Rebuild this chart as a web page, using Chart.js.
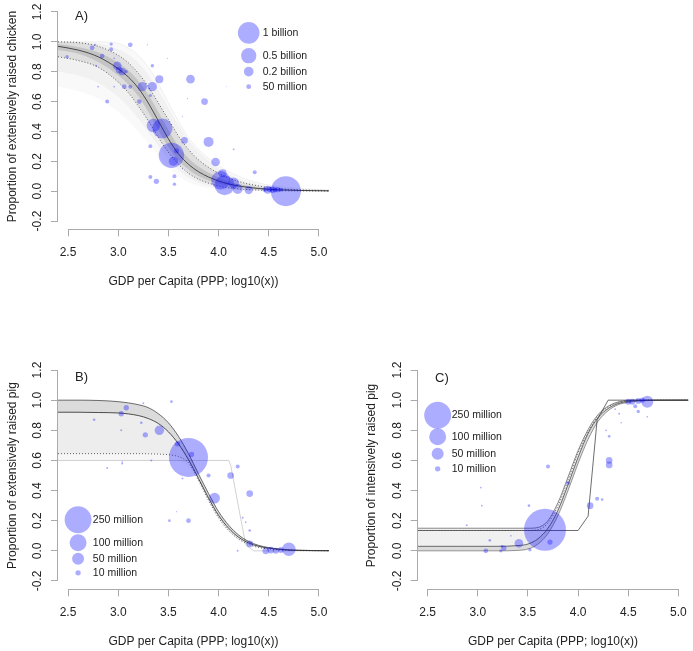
<!DOCTYPE html>
<html>
<head>
<meta charset="utf-8">
<script src="https://cdn.jsdelivr.net/npm/chart.js@4.4.1/dist/chart.umd.min.js"></script>
<style>
  body { margin: 0; background: #fff; }
  #wrap { position: relative; width: 693px; height: 651px; }
  #wrap canvas { position: absolute; }
</style>
</head>
<body>
<div id="wrap">
  <canvas id="chartA" width="346" height="291" style="left:0px;top:0px;width:346px;height:291px"></canvas>
  <canvas id="chartB" width="346" height="331" style="left:0px;top:320px;width:346px;height:331px"></canvas>
  <canvas id="chartC" width="347" height="331" style="left:346px;top:320px;width:347px;height:331px"></canvas>
</div>
<script>
// tick labels shared by all three panels
const xTicks = [2.5, 3.0, 3.5, 4.0, 4.5, 5.0];
const yTicks = [-0.2, 0.0, 0.2, 0.4, 0.6, 0.8, 1.0, 1.2];

// A) chicken: GDP (log10), proportion extensive, population (millions)
const chickenGdp = [2.49, 2.74, 2.77, 2.84, 2.78, 2.93, 2.93, 2.96, 2.99, 3.01, 3.04, 3.08, 3.12, 2.96, 2.80, 2.89, 3.06, 3.12, 3.21, 3.24, 3.34, 3.34, 3.41, 3.32, 3.35, 3.44, 3.32, 3.53, 3.55, 3.58, 3.66, 3.56, 3.56, 3.32, 3.38, 3.72, 3.86, 3.90, 3.97, 4.02, 4.06, 4.04, 4.15, 4.19, 4.15, 4.30, 4.36, 4.49, 4.54, 4.59, 4.67, 3.29, 3.49, 3.69, 3.64, 4.08, 3.64, 4.46, 4.51, 4.56, 4.62];
const chickenProp = [0.90, 0.96, 0.98, 0.905, 0.84, 0.985, 0.95, 0.89, 0.84, 0.81, 0.80, 0.80, 0.98, 0.70, 0.70, 0.60, 0.70, 0.70, 0.60, 0.70, 0.70, 0.84, 0.75, 0.64, 0.44, 0.42, 0.30, 0.24, 0.20, 0.27, 0.34, 0.10, 0.047, 0.095, 0.066, 0.75, 0.60, 0.33, 0.195, 0.073, 0.04, 0.12, 0.055, 0.015, 0.28, 0.007, 0.127, 0.01, 0.01, 0.01, 0.0, 0.98, 0.89, 0.62, 0.50, 0.70, 0.15, 0.01, 0.012, 0.008, 0.01];
const chickenPop = [24, 47, 10, 47, 8, 24, 34, 6, 160, 95, 115, 24, 47, 6, 6, 34, 47, 34, 47, 186, 186, 24, 137, 20, 380, 855, 34, 1372, 186, 61, 95, 34, 24, 34, 61, 160, 95, 214, 160, 745, 855, 137, 243, 214, 8, 137, 34, 137, 95, 61, 1924, 3, 3, 3, 3, 2, 3, 47, 61, 47, 34];

// A) fitted curves
const chickenCurveX = [2.4, 2.6, 2.8, 3.0, 3.1, 3.2, 3.3, 3.4, 3.5, 3.6, 3.7, 3.8, 4.0, 4.2, 4.4, 4.6, 4.8, 5.1];
const chickenMedian = [0.97, 0.945, 0.90, 0.82, 0.765, 0.69, 0.59, 0.47, 0.35, 0.25, 0.18, 0.13, 0.068, 0.035, 0.018, 0.009, 0.005, 0.002];
const chickenUpper = [1.0, 0.995, 0.97, 0.91, 0.86, 0.79, 0.70, 0.59, 0.48, 0.37, 0.28, 0.21, 0.12, 0.065, 0.035, 0.018, 0.01, 0.004];
const chickenLower = [0.90, 0.875, 0.83, 0.73, 0.66, 0.57, 0.47, 0.36, 0.26, 0.18, 0.12, 0.08, 0.035, 0.015, 0.007, 0.003, 0.001, 0.0];
const chickenInnerHi = [0.985, 0.965, 0.93, 0.86, 0.81, 0.74, 0.645, 0.53, 0.41, 0.30, 0.22, 0.165, 0.09, 0.048, 0.025, 0.013, 0.007, 0.003];
const chickenInnerLo = [0.945, 0.92, 0.865, 0.775, 0.715, 0.635, 0.53, 0.41, 0.295, 0.205, 0.145, 0.10, 0.05, 0.024, 0.012, 0.006, 0.003, 0.001];
const chickenMidHi = [1.0, 1.0, 0.99, 0.95, 0.915, 0.86, 0.78, 0.675, 0.56, 0.445, 0.345, 0.265, 0.155, 0.085, 0.047, 0.026, 0.015, 0.007];
const chickenMidLo = [0.80, 0.775, 0.725, 0.63, 0.565, 0.485, 0.395, 0.30, 0.21, 0.14, 0.09, 0.057, 0.022, 0.009, 0.003, 0.001, 0.0, 0.0];
const chickenOuterHi = [1.0, 1.0, 1.0, 0.99, 0.96, 0.91, 0.83, 0.72, 0.59, 0.47, 0.36, 0.28, 0.17, 0.10, 0.055, 0.032, 0.018, 0.009];
const chickenOuterLo = [0.70, 0.67, 0.62, 0.53, 0.47, 0.40, 0.32, 0.24, 0.16, 0.10, 0.06, 0.035, 0.012, 0.004, 0.0, 0.0, 0.0, 0.0];
const chickenLegendPop = [1000, 500, 200, 50];
const chickenLegendText = ['1 billion', '0.5 billion', '0.2 billion', '50 million'];

// B) pigs extensive
const pigGdpB = [3.08, 3.03, 3.25, 3.53, 2.76, 3.23, 3.03, 3.41, 3.27, 3.59, 3.70, 3.73, 3.33, 3.04, 2.89, 3.64, 3.90, 4.12, 4.19, 3.96, 4.31, 3.51, 3.70, 4.24, 4.31, 4.31, 4.19, 4.47, 4.52, 4.57, 4.62, 4.70, 3.58, 4.27, 3.04];
const pigExtProp = [0.95, 0.91, 0.98, 0.99, 0.87, 0.85, 0.80, 0.80, 0.77, 0.71, 0.62, 0.64, 0.60, 0.58, 0.55, 0.48, 0.50, 0.50, 0.56, 0.35, 0.38, 0.20, 0.20, 0.22, 0.135, 0.046, 0.0, 0.0, 0.005, 0.0, 0.005, 0.011, 0.26, 0.19, 0.59];
const pigPopB = [10, 10, 1.4, 2.5, 2.5, 2.5, 1.4, 31, 10, 10, 528, 10, 1.4, 1.4, 1.4, 1.4, 5.7, 15.7, 5.7, 40, 15.7, 2.5, 7.7, 1.4, 2.5, 15.7, 1.4, 15.7, 15.7, 12.7, 12.7, 63, 0.5, 1.0, 0.8];

const pigExtCurveX = [2.4, 2.6, 2.8, 3.0, 3.2, 3.3, 3.4, 3.5, 3.6, 3.7, 3.8, 3.9, 4.0, 4.1, 4.2, 4.3, 4.4, 4.6, 4.8, 5.1];
const pigExtTop = [1.0, 1.0, 0.998, 0.99, 0.97, 0.95, 0.91, 0.85, 0.76, 0.645, 0.51, 0.38, 0.26, 0.17, 0.105, 0.062, 0.036, 0.012, 0.004, 0.001];
const pigExtMedian = [0.92, 0.92, 0.918, 0.915, 0.898, 0.878, 0.845, 0.79, 0.71, 0.605, 0.48, 0.35, 0.235, 0.15, 0.09, 0.052, 0.03, 0.01, 0.003, 0.001];
const pigExtLowerDot = [0.645, 0.645, 0.645, 0.645, 0.645, 0.644, 0.642, 0.638, 0.625, 0.585, 0.47, 0.335, 0.22, 0.135, 0.078, 0.042, 0.022, 0.007, 0.002, 0.0];
const pigExtBottom = [0.60, 0.60, 0.60, 0.60, 0.60, 0.60, 0.60, 0.60, 0.595, 0.56, 0.45, 0.32, 0.205, 0.125, 0.07, 0.037, 0.019, 0.006, 0.002, 0.0];
const pigExtStepX = [2.4, 4.1, 4.12, 4.27, 4.35, 5.1];
const pigExtStepY = [0.60, 0.60, 0.57, 0.04, 0.0, 0.0];

// C) pigs intensive
const pigGdpC = [3.67, 3.72, 3.41, 3.26, 3.23, 3.08, 3.12, 3.52, 3.33, 3.51, 3.03, 3.04, 2.89, 3.70, 3.90, 4.12, 4.19, 4.24, 4.31, 4.31, 4.31, 4.28, 4.41, 4.69, 4.50, 4.54, 4.60, 4.64, 4.57, 4.60, 4.37, 4.43, 4.69, 3.24];
const pigIntProp = [0.14, 0.058, 0.05, 0.018, 0.0, 0.0, 0.07, 0.007, 0.10, 0.30, 0.42, 0.30, 0.17, 0.56, 0.45, 0.30, 0.345, 0.34, 0.60, 0.57, 0.76, 0.80, 0.91, 0.99, 0.99, 0.99, 0.995, 1.0, 0.96, 0.925, 0.94, 0.85, 0.89, 0.03];
const pigPopC = [610, 9.8, 26, 9.8, 3.8, 7.5, 2.5, 3.8, 1.0, 2.5, 1.0, 1.0, 1.4, 5.5, 5.5, 15.4, 5.5, 2.5, 15.4, 15.4, 2.5, 1.0, 1.4, 50, 12.5, 12.5, 12.5, 9.8, 5.5, 3.8, 1.0, 0.8, 1.0, 2.5];

const pigIntCurveX = [2.4, 2.8, 3.2, 3.4, 3.5, 3.6, 3.7, 3.8, 3.9, 4.0, 4.1, 4.2, 4.3, 4.4, 4.5, 4.6, 4.8, 5.1];
const pigIntTop = [0.15, 0.15, 0.15, 0.15, 0.15, 0.155, 0.20, 0.32, 0.49, 0.665, 0.805, 0.905, 0.96, 0.988, 0.998, 1.0, 1.0, 1.0];
const pigIntDot = [0.135, 0.135, 0.135, 0.135, 0.135, 0.14, 0.185, 0.30, 0.47, 0.65, 0.79, 0.895, 0.955, 0.985, 0.996, 1.0, 1.0, 1.0];
const pigIntMedian = [0.03, 0.03, 0.03, 0.035, 0.045, 0.08, 0.15, 0.27, 0.44, 0.62, 0.78, 0.885, 0.945, 0.978, 0.992, 0.997, 1.0, 1.0];
const pigIntBottom = [0.0, 0.0, 0.0, 0.003, 0.012, 0.045, 0.115, 0.235, 0.40, 0.58, 0.74, 0.86, 0.93, 0.97, 0.985, 0.994, 0.999, 1.0];
const pigIntStepX = [2.4, 4.0, 4.1, 4.19, 4.3, 5.1];
const pigIntStepY = [0.135, 0.135, 0.23, 0.87, 1.0, 1.0];

const pigLegendPop = [250, 100, 50, 10];
const pigLegendText = ['250 million', '100 million', '50 million', '10 million'];

// look
const fontFamily = '"Liberation Sans", Arial, Helvetica, sans-serif';
const textColor = '#222';
const axisColor = '#aaa';
const bubbleColor = 'rgba(0,0,255,0.32)';
Chart.defaults.font.family = fontFamily;
Chart.defaults.font.size = 12;
Chart.defaults.color = textColor;

function pts(xs, ys) {
    return xs.map((x, i) => ({ x: x, y: ys[i] }));
}

// draws R-style axis lines, the panel letter and the bubble size legend
function makeDecor(p) {
    return {
        id: 'decor' + p.letter,
        afterDraw(chart) {
            const ctx = chart.ctx;
            const xs = chart.scales.x;
            const ys = chart.scales.y;
            const ca = chart.chartArea;
            ctx.save();
            ctx.strokeStyle = axisColor;
            ctx.lineWidth = 1;
            ctx.beginPath();
            const yb = Math.round(ca.bottom) + 0.5;
            ctx.moveTo(xs.getPixelForValue(xTicks[0]), yb);
            ctx.lineTo(xs.getPixelForValue(xTicks[xTicks.length - 1]), yb);
            const xl = Math.round(ca.left) - 0.5;
            ctx.moveTo(xl, ys.getPixelForValue(yTicks[0]));
            ctx.lineTo(xl, ys.getPixelForValue(yTicks[yTicks.length - 1]));
            ctx.stroke();

            // panel letter
            ctx.fillStyle = textColor;
            ctx.font = '13px ' + fontFamily;
            ctx.textAlign = 'left';
            ctx.textBaseline = 'middle';
            ctx.fillText(p.letter + ')', p.labelPos.x, p.labelPos.y);

            // size legend
            ctx.font = '10.5px ' + fontFamily;
            p.legendPop.forEach((pop, i) => {
                const cx = xs.getPixelForValue(p.legendPos.cx);
                const cy = ys.getPixelForValue(p.legendPos.cy[i]);
                ctx.fillStyle = bubbleColor;
                ctx.beginPath();
                ctx.arc(cx, cy, p.k * Math.sqrt(pop), 0, Math.PI * 2);
                ctx.fill();
                ctx.fillStyle = textColor;
                ctx.fillText(p.legendText[i], xs.getPixelForValue(p.legendPos.tx), cy);
            });
            ctx.restore();
        }
    };
}

function makePanel(id, p) {
    const datasets = [];
    datasets.push({
        type: 'bubble',
        data: p.gdp.map((g, i) => ({ x: g, y: p.prop[i], r: p.k * Math.sqrt(p.pop[i]) })),
        backgroundColor: bubbleColor,
        borderWidth: 0,
        order: 0
    });
    p.bands.forEach(b => {
        datasets.push({
            type: 'line', data: pts(b.x, b.hi), fill: '+1', backgroundColor: b.color,
            borderColor: 'rgba(0,0,0,0)', borderWidth: 1, pointRadius: 0,
            cubicInterpolationMode: 'monotone', order: 5
        });
        datasets.push({
            type: 'line', data: pts(b.x, b.lo), fill: false,
            borderColor: 'rgba(0,0,0,0)', borderWidth: 1, pointRadius: 0,
            cubicInterpolationMode: 'monotone', order: 5
        });
    });
    p.lines.forEach(l => {
        datasets.push({
            type: 'line', data: pts(l.x, l.y), fill: false,
            borderColor: l.color, borderWidth: l.width, borderDash: l.dash || [],
            pointRadius: 0, tension: 0,
            cubicInterpolationMode: l.straight ? 'default' : 'monotone', order: 2
        });
    });

    return new Chart(document.getElementById(id), {
        type: 'bubble',
        data: { datasets: datasets },
        options: {
            responsive: false,
            animation: false,
            events: [],
            layout: { autoPadding: false, padding: p.padding },
            plugins: { legend: { display: false }, tooltip: { enabled: false } },
            scales: {
                x: {
                    type: 'linear', min: 2.4, max: 5.1,
                    afterBuildTicks: s => { s.ticks = xTicks.map(v => ({ value: v })); },
                    afterFit: s => { s.height = 61.6; s.paddingLeft = 0; s.paddingRight = 0; },
                    grid: { drawOnChartArea: false, drawTicks: true, tickLength: 7, color: axisColor },
                    border: { display: false },
                    ticks: { autoSkip: false, maxRotation: 0, padding: 9.4, color: textColor, callback: v => v.toFixed(1) },
                    title: { display: true, text: 'GDP per Capita (PPP; log10(x))', color: textColor, padding: { top: 0, bottom: 2.3 } }
                },
                y: {
                    type: 'linear', min: -0.256, max: 1.256,
                    afterBuildTicks: s => { s.ticks = yTicks.map(v => ({ value: v })); },
                    afterFit: s => { s.width = 58; s.paddingTop = 0; s.paddingBottom = 0; },
                    grid: { drawOnChartArea: false, drawTicks: true, tickLength: 7, color: axisColor },
                    border: { display: false },
                    ticks: { autoSkip: false, minRotation: 90, maxRotation: 90, crossAlign: 'center', padding: 2.7, color: textColor, callback: v => v.toFixed(1) },
                    title: { display: true, text: p.yTitle, color: textColor, padding: { top: 5.3, bottom: 0 } }
                }
            }
        },
        plugins: [makeDecor(p)]
    });
}

makePanel('chartA', {
    letter: 'A',
    yTitle: 'Proportion of extensively raised chicken',
    gdp: chickenGdp, prop: chickenProp, pop: chickenPop, k: 0.342,
    padding: { left: 0, top: 3.6, right: 17, bottom: 0 },
    bands: [
        { x: chickenCurveX, hi: chickenOuterHi, lo: chickenOuterLo, color: 'rgba(0,0,0,0.025)' },
        { x: chickenCurveX, hi: chickenMidHi, lo: chickenMidLo, color: 'rgba(0,0,0,0.035)' },
        { x: chickenCurveX, hi: chickenUpper, lo: chickenLower, color: 'rgba(0,0,0,0.08)' },
        { x: chickenCurveX, hi: chickenInnerHi, lo: chickenInnerLo, color: 'rgba(0,0,0,0.12)' }
    ],
    lines: [
        { x: chickenCurveX, y: chickenMedian, color: 'rgba(50,50,50,0.85)', width: 1 },
        { x: chickenCurveX, y: chickenUpper, color: 'rgba(60,60,60,0.8)', width: 1, dash: [1, 2] },
        { x: chickenCurveX, y: chickenLower, color: 'rgba(60,60,60,0.8)', width: 1, dash: [1, 2] },
        { x: chickenCurveX, y: chickenOuterHi, color: 'rgba(0,0,0,0.06)', width: 1 }
    ],
    legendPop: chickenLegendPop, legendText: chickenLegendText,
    legendPos: { cx: 4.30, tx: 4.44, cy: [1.06, 0.907, 0.80, 0.70] },
    labelPos: { x: 75, y: 16.7 }
});

makePanel('chartB', {
    letter: 'B',
    yTitle: 'Proportion of extensively raised pig',
    gdp: pigGdpB, prop: pigExtProp, pop: pigPopB, k: 0.85,
    padding: { left: 0, top: 41.6, right: 17, bottom: 0 },
    bands: [
        { x: pigExtCurveX, hi: pigExtTop, lo: pigExtBottom, color: 'rgba(0,0,0,0.035)' },
        { x: pigExtCurveX, hi: pigExtTop, lo: pigExtLowerDot, color: 'rgba(0,0,0,0.04)' },
        { x: pigExtCurveX, hi: pigExtTop, lo: pigExtMedian, color: 'rgba(0,0,0,0.08)' }
    ],
    lines: [
        { x: pigExtStepX, y: pigExtStepY, color: 'rgba(0,0,0,0.18)', width: 1, straight: true },
        { x: pigExtCurveX, y: pigExtTop, color: 'rgba(60,60,60,0.75)', width: 1 },
        { x: pigExtCurveX, y: pigExtMedian, color: 'rgba(50,50,50,0.85)', width: 1 },
        { x: pigExtCurveX, y: pigExtLowerDot, color: 'rgba(60,60,60,0.8)', width: 1, dash: [1, 2] }
    ],
    legendPop: pigLegendPop, legendText: pigLegendText,
    legendPos: { cx: 2.60, tx: 2.747, cy: [0.206, 0.053, -0.053, -0.146] },
    labelPos: { x: 75, y: 57.7 }
});

makePanel('chartC', {
    letter: 'C',
    yTitle: 'Proportion of intensively raised pig',
    gdp: pigGdpC, prop: pigIntProp, pop: pigPopC, k: 0.85,
    padding: { left: 13.6, top: 41.6, right: 4.6, bottom: 0 },
    bands: [
        { x: pigIntCurveX, hi: pigIntTop, lo: pigIntBottom, color: 'rgba(0,0,0,0.06)' },
        { x: pigIntCurveX, hi: pigIntMedian, lo: pigIntBottom, color: 'rgba(0,0,0,0.09)' }
    ],
    lines: [
        { x: pigIntStepX, y: pigIntStepY, color: 'rgba(60,60,60,0.75)', width: 1, straight: true },
        { x: pigIntCurveX, y: pigIntTop, color: 'rgba(60,60,60,0.6)', width: 1 },
        { x: pigIntCurveX, y: pigIntMedian, color: 'rgba(50,50,50,0.7)', width: 1 },
        { x: pigIntCurveX, y: pigIntDot, color: 'rgba(60,60,60,0.8)', width: 1, dash: [1, 2] },
        { x: pigIntCurveX, y: pigIntBottom, color: 'rgba(60,60,60,0.5)', width: 1 }
    ],
    legendPop: pigLegendPop, legendText: pigLegendText,
    legendPos: { cx: 2.60, tx: 2.74, cy: [0.90, 0.757, 0.644, 0.544] },
    labelPos: { x: 89, y: 58 }
});
</script>
</body>
</html>
